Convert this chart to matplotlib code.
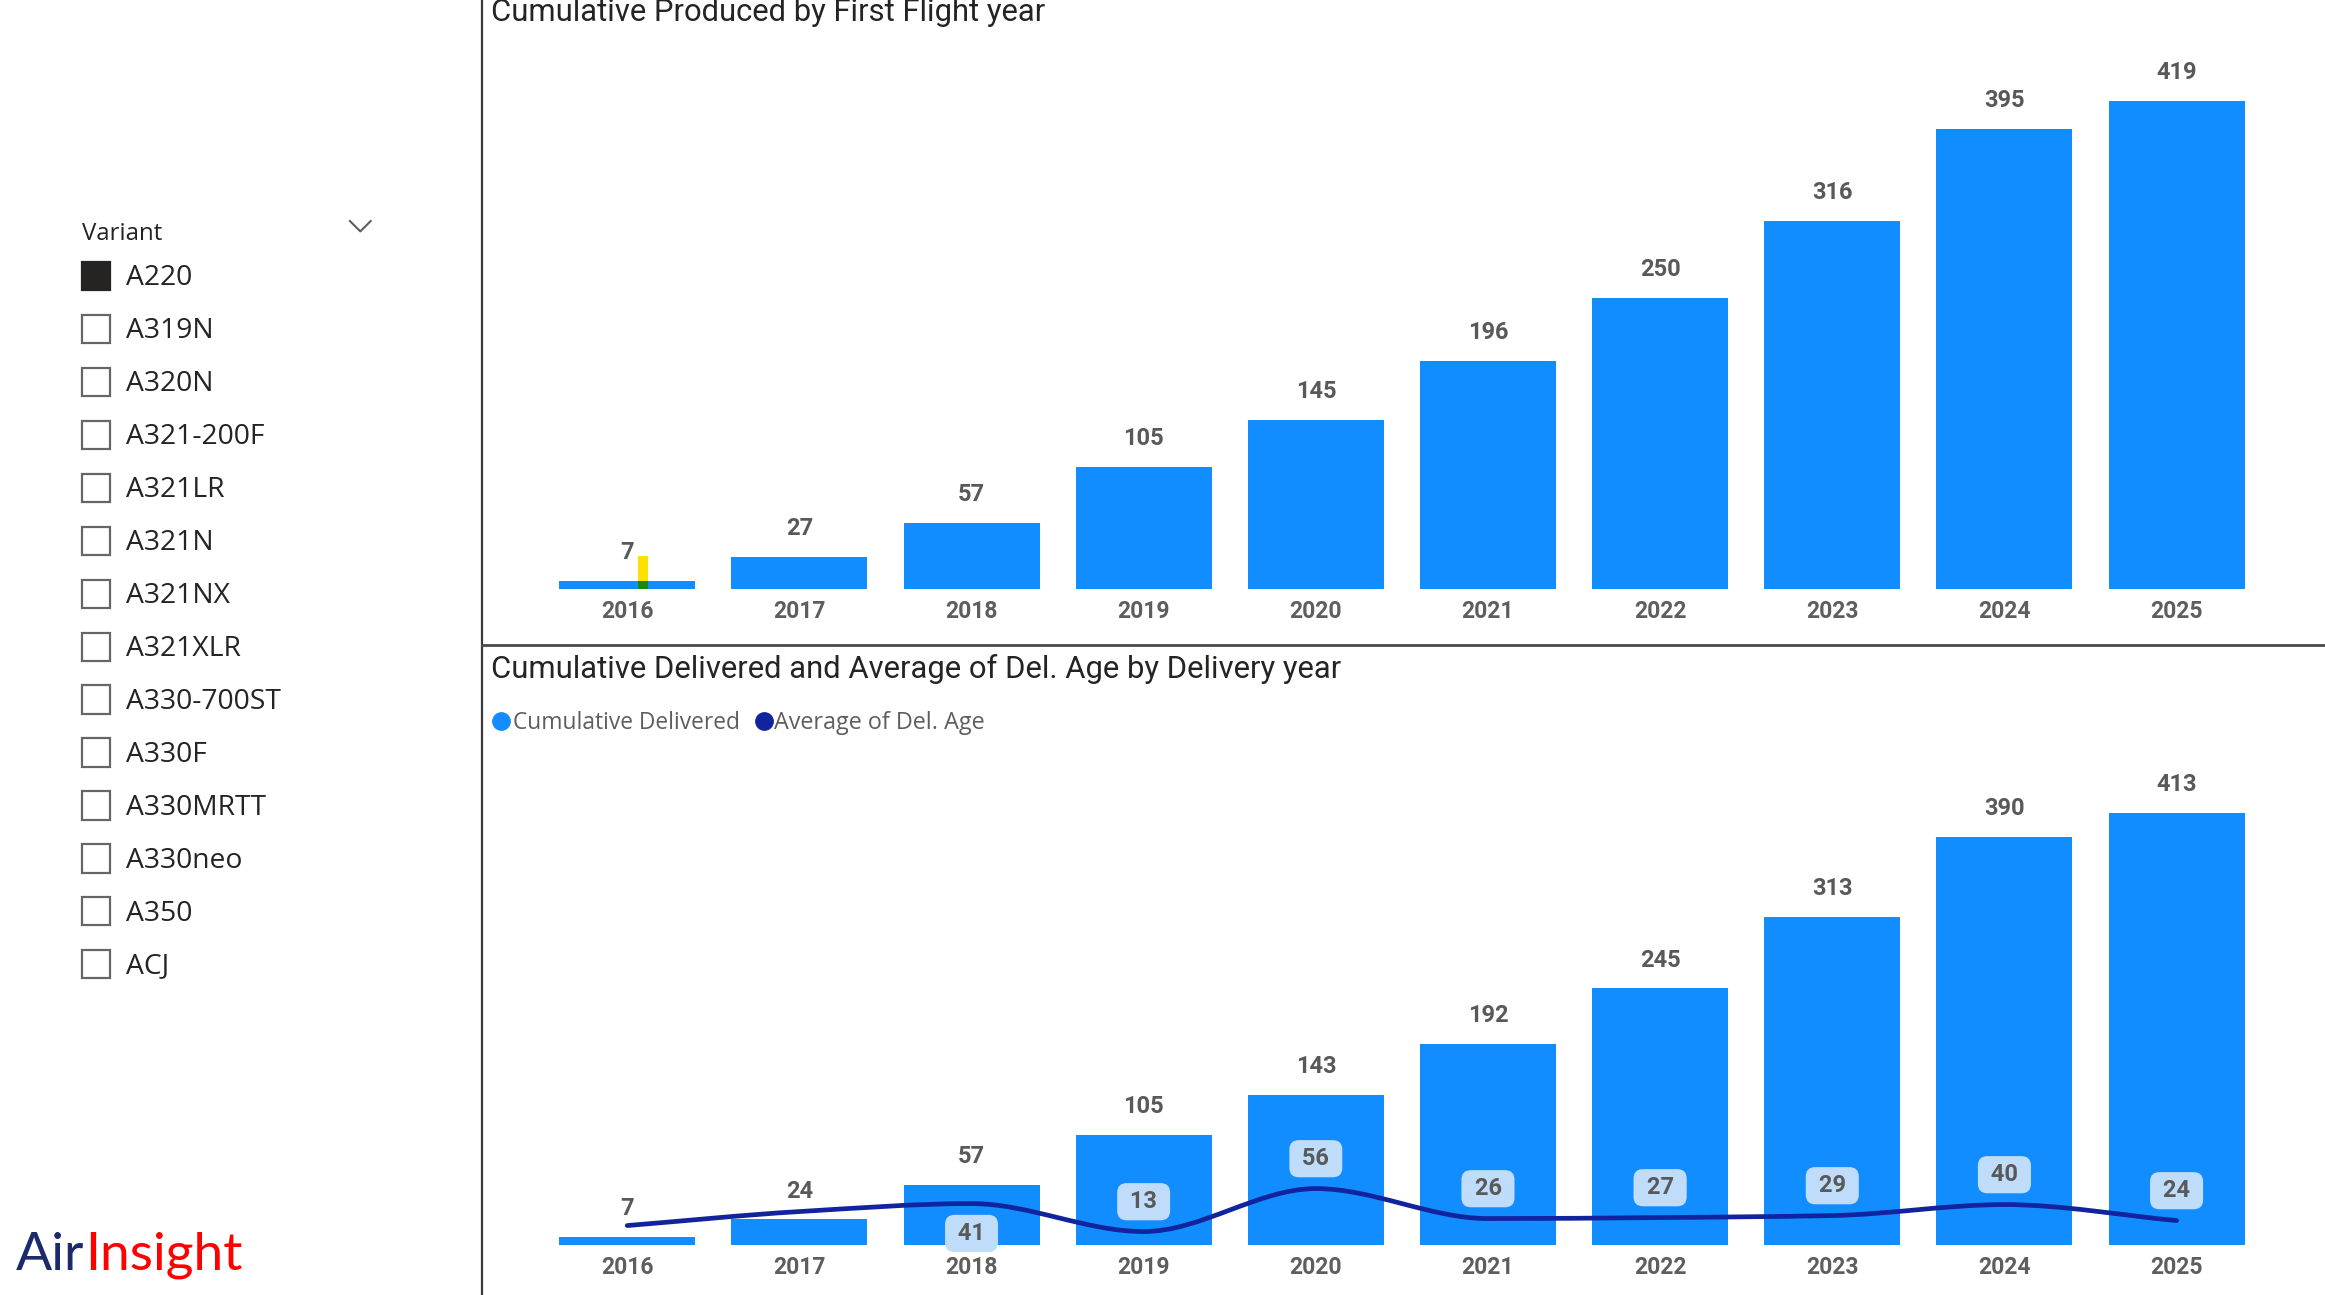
import numpy as np
import matplotlib
matplotlib.use("Agg")
import matplotlib.pyplot as plt
from matplotlib.lines import Line2D
from matplotlib.patches import Rectangle
from matplotlib.path import Path
from matplotlib.patches import PathPatch

# ---------------- data ----------------
years = ["2016", "2017", "2018", "2019", "2020", "2021", "2022", "2023", "2024", "2025"]
cum_produced = [7, 27, 57, 105, 145, 196, 250, 316, 395, 419]
cum_delivered = [7, 24, 57, 105, 143, 192, 245, 313, 390, 413]
avg_del_age = [19, 33, 41, 13, 56, 26, 27, 29, 40, 24]
avg_labelled = [False, False, True, True, True, True, True, True, True, True]
avg_label_below = [False, False, True, False, False, False, False, False, False, False]
marker_2016 = 28          # small yellow marker seen on the 2016 produced bar
variants = ["A220", "A319N", "A320N", "A321-200F", "A321LR", "A321N", "A321NX",
            "A321XLR", "A330-700ST", "A330F", "A330MRTT", "A330neo", "A350", "ACJ"]
selected = ["A220"]

# ---------------- style ----------------
BLUE = "#118DFF"
NAVY = "#12239E"
LBL = "#595959"
TICK = "#605E5C"
BOXC = "#BFDDFB"
TITLE_FONT = "Roboto"
UI_FONT = "Open Sans"

W, H = 1568, 873
def fx(x): return x / W
def fy(y): return 1 - y / H

fig = plt.figure(figsize=(23.25, 12.95), dpi=100)
fig.patch.set_facecolor("white")

c0, step = 423, 116.1
xl, xr = -0.6, 9.6
ax_left = c0 + xl * step
ax_w = (xr - xl) * step
xs = np.arange(len(years))

def style_axes(ax):
    for s in ax.spines.values():
        s.set_visible(False)
    ax.set_yticks([])
    ax.set_xlim(xl, xr)
    ax.set_xticks(xs)
    ax.set_xticklabels(years, fontsize=16.5, fontweight="bold", color=TICK, family=TITLE_FONT)
    ax.tick_params(axis="x", length=0, pad=8)
    ax.set_facecolor("none")

# ---------- top chart ----------
ax_t = fig.add_axes([fx(ax_left), fy(397), ax_w / W, (397 - 30) / H])
style_axes(ax_t)
ax_t.set_ylim(0, 367 / 0.785)
ax_t.bar(xs, cum_produced, width=0.79, color=BLUE, zorder=2)
for x, v in zip(xs, cum_produced):
    ax_t.annotate(str(v), (x, v), xytext=(0, 20.5), textcoords="offset points",
                  ha="center", va="center", fontsize=17, fontweight="bold",
                  color=LBL, family=TITLE_FONT)
ax_t.bar([0.09], [marker_2016], width=0.06, color="#FFE100", zorder=3)
ax_t.bar([0.09], [cum_produced[0]], width=0.06, color="#178A0C", zorder=4)

# ---------- bottom chart ----------
ax_b = fig.add_axes([fx(ax_left), fy(839), ax_w / W, (839 - 500) / H])
style_axes(ax_b)
ax_b.set_ylim(0, 339 / 0.7046)
ax_b.bar(xs, cum_delivered, width=0.79, color=BLUE, zorder=2)
for x, v in zip(xs, cum_delivered):
    ax_b.annotate(str(v), (x, v), xytext=(0, 20.5), textcoords="offset points",
                  ha="center", va="center", fontsize=17, fontweight="bold",
                  color=LBL, family=TITLE_FONT)

ax2 = ax_b.twinx()
ax2.set_ylim(0, 339 / 0.674)
ax2.set_xlim(xl, xr)
ax2.axis("off")

# monotone cubic (Fritsch-Carlson) drawn as Bezier path through the data
xa = xs.astype(float)
ya = np.array(avg_del_age, dtype=float)
d = np.diff(ya) / np.diff(xa)
m = np.zeros_like(ya)
m[0], m[-1] = d[0], d[-1]
for i in range(1, len(ya) - 1):
    if d[i - 1] * d[i] <= 0:
        m[i] = 0
    else:
        m[i] = 2 / (1 / d[i - 1] + 1 / d[i])
verts = [(xa[0], ya[0])]
codes = [Path.MOVETO]
for i in range(len(ya) - 1):
    h = xa[i + 1] - xa[i]
    verts += [(xa[i] + h / 3, ya[i] + m[i] * h / 3),
              (xa[i + 1] - h / 3, ya[i + 1] - m[i + 1] * h / 3),
              (xa[i + 1], ya[i + 1])]
    codes += [Path.CURVE4] * 3
ax2.add_patch(PathPatch(Path(verts, codes), fc="none", ec=NAVY, lw=3.4,
                        capstyle="round", zorder=3))
for x, v, show, below in zip(xs, avg_del_age, avg_labelled, avg_label_below):
    if not show:
        continue
    ax2.annotate(f" {v} ", (x, v), xytext=(0, -21.5 if below else 21.5),
                 textcoords="offset points", ha="center", va="center",
                 fontsize=17, fontweight="bold", color=LBL, family=TITLE_FONT,
                 bbox=dict(boxstyle="round,pad=0.3,rounding_size=0.4", fc=BOXC, ec="none"),
                 zorder=5)

# ---------- titles & legend ----------
fig.text(fx(331), fy(14), "Cumulative Produced by First Flight year", fontsize=22.3,
         family=TITLE_FONT, color="#252423", va="baseline", ha="left")
fig.text(fx(331), fy(457), "Cumulative Delivered and Average of Del. Age by Delivery year",
         fontsize=22.3, family=TITLE_FONT, color="#252423", va="baseline", ha="left")
fig.add_artist(Line2D([fx(338)], [fy(486)], marker="o", markersize=12.5, color=BLUE,
                      transform=fig.transFigure, linestyle="none"))
fig.text(fx(346), fy(487.5), "Cumulative Delivered", fontsize=16.4, family=UI_FONT,
         color=TICK, va="center", ha="left")
fig.add_artist(Line2D([fx(515)], [fy(486)], marker="o", markersize=12.5, color=NAVY,
                      transform=fig.transFigure, linestyle="none"))
fig.text(fx(522), fy(487.5), "Average of Del. Age", fontsize=16.8, family=UI_FONT,
         color=TICK, va="center", ha="left")

# ---------- separators ----------
fig.add_artist(Line2D([fx(325), fx(325)], [0, 1], color="#3a3a3a", lw=1.6,
                      transform=fig.transFigure))
fig.add_artist(Line2D([fx(325), 1], [fy(435), fy(435)], color="#4a4a4a", lw=2.0,
                      transform=fig.transFigure))

# ---------- slicer ----------
fig.text(fx(55), fy(158), "Variant", fontsize=17.3, family=UI_FONT, color="#252423",
         va="center", ha="left")
fig.add_artist(Line2D([fx(236), fx(243), fx(250)], [fy(149), fy(156), fy(149)],
                      color=TICK, lw=1.5, transform=fig.transFigure))
box = 19
for i, name in enumerate(variants):
    yc = 186 + 35.7 * i
    on = name in selected
    fig.add_artist(Rectangle((fx(55), fy(yc + box / 2)), box / W, box / H,
                             transform=fig.transFigure,
                             fc="#252423" if on else "white",
                             ec="#252423" if on else "#666666", lw=1.6))
    fig.text(fx(85), fy(yc + 1.5), name, fontsize=20.3, family=UI_FONT, color="#252423",
             va="center", ha="left")

# ---------- logo ----------
t_air = fig.text(fx(11), fy(856), "Air", fontsize=38.5, family="Lato", color="#1B2A6B",
                 va="baseline", ha="left")
r = fig.canvas.get_renderer()
bb = t_air.get_window_extent(renderer=r)
fig.text(bb.x1 / fig.bbox.width, fy(856), "Insight", fontsize=38.5, family="Lato",
         color="#FF0000", va="baseline", ha="left")

fig.savefig("out.png", dpi=100, facecolor="white")
